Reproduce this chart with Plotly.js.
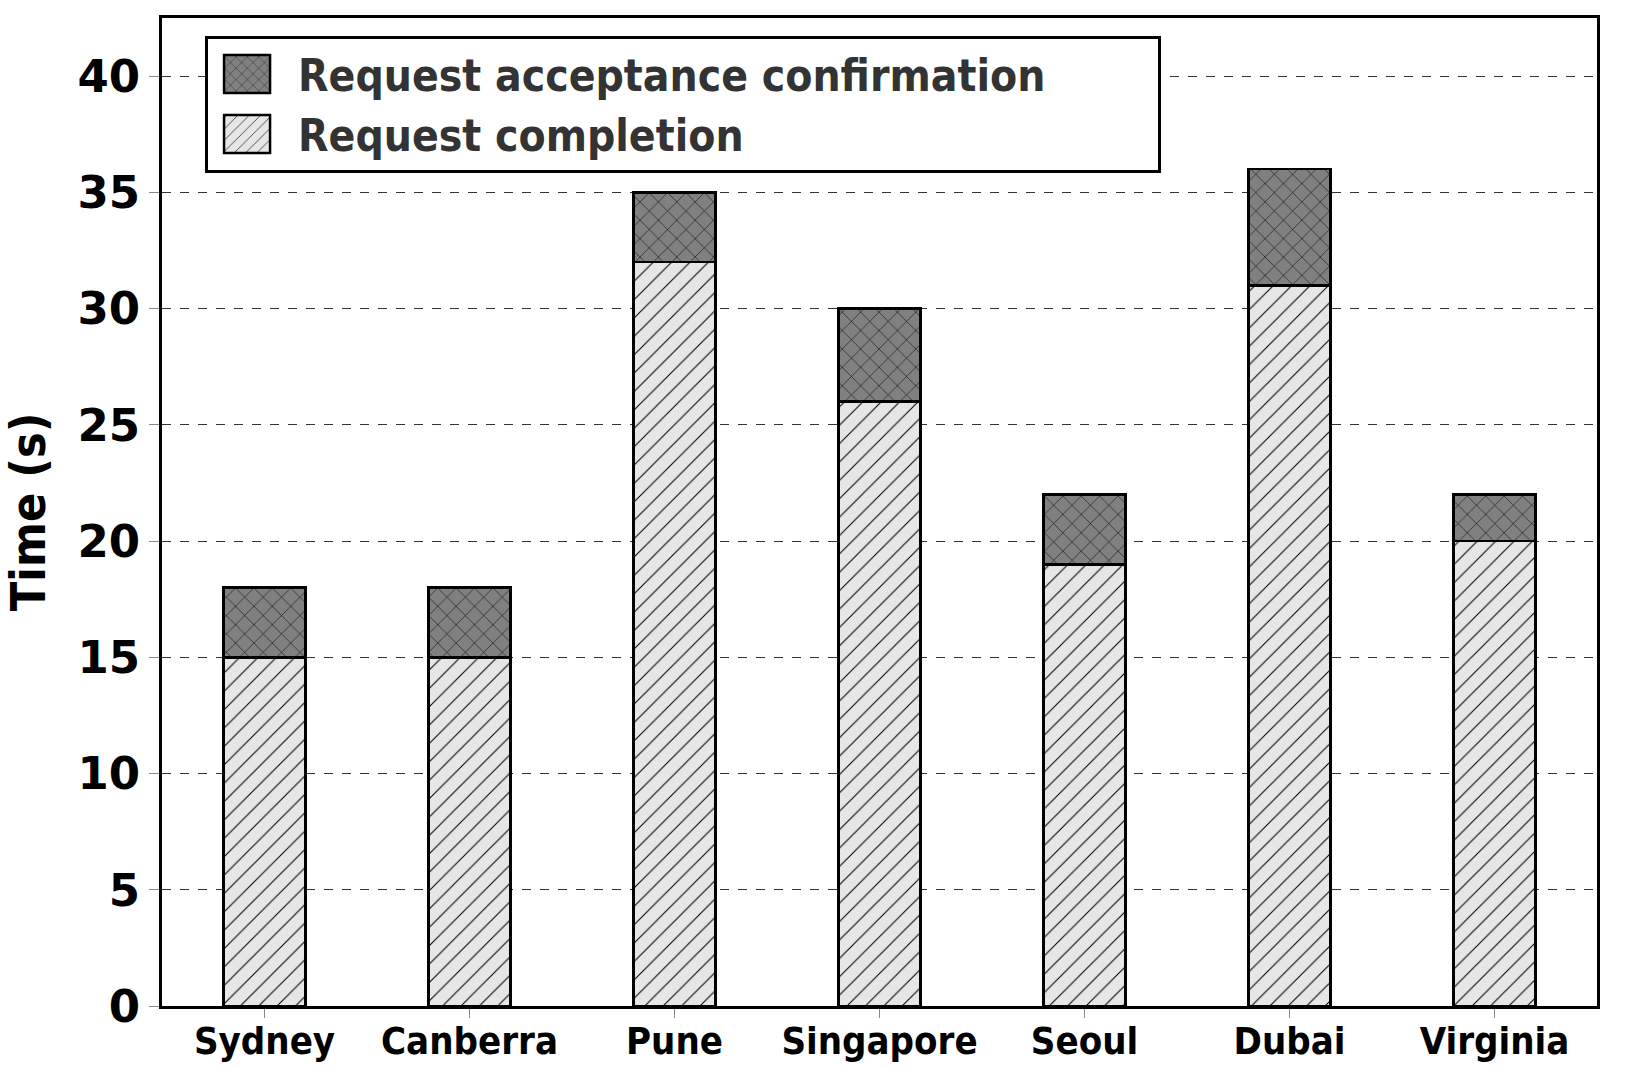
<!DOCTYPE html>
<html>
<head>
<meta charset="utf-8">
<script src="https://cdn.plot.ly/plotly-3.0.1.min.js"></script>
<style>html,body{margin:0;padding:0;background:#fff;}#chart{width:1634px;height:1068px;}</style>
</head>
<body>
<div id="chart"></div>
<script>
const cities = ["Sydney", "Canberra", "Pune", "Singapore", "Seoul", "Dubai", "Virginia"];
const completion = [15, 15, 32, 26, 19, 31, 20];
const acceptance = [3, 3, 3, 4, 3, 5, 2];
const yTicks = [0, 5, 10, 15, 20, 25, 30, 35, 40];

const traces = [
  {
    type: "bar", name: "Request completion", x: cities, y: completion, width: 0.4,
    marker: {
      color: "#e6e6e6",
      line: {color: "#000", width: 2.5},
      pattern: {shape: "/", fgcolor: "#000", bgcolor: "#e6e6e6", size: 13, solidity: 0.08, fillmode: "replace"}
    }
  },
  {
    type: "bar", name: "Request acceptance confirmation", x: cities, y: acceptance, width: 0.4,
    marker: {
      color: "#808080",
      line: {color: "#000", width: 2.5},
      pattern: {shape: "x", fgcolor: "#000", bgcolor: "#808080", size: 13, solidity: 0.08, fillmode: "replace"}
    }
  }
];

const layout = {
  width: 1634, height: 1068,
  margin: {l: 162, r: 37, t: 18, b: 62},
  paper_bgcolor: "#fff", plot_bgcolor: "#fff",
  barmode: "stack",
  showlegend: true,
  legend: {
    x: 0.03, y: 0.982, xanchor: "left", yanchor: "top",
    orientation: "h", entrywidth: 855, entrywidthmode: "pixels",
    traceorder: "reversed", itemwidth: 80,
    bgcolor: "#fff", bordercolor: "#000", borderwidth: 3,
    font: {family: "DejaVu Sans Condensed", size: 44, color: "#333", weight: "bold"}
  },
  xaxis: {
    range: [-0.5, 6.5],
    showline: true, mirror: true, linecolor: "#000", linewidth: 3,
    ticks: "outside", ticklen: 9, tickcolor: "#888", tickwidth: 1,
    ticklabelstandoff: -10,
    tickfont: {family: "DejaVu Sans Condensed", size: 38, color: "#000", weight: "bold"},
    showgrid: false, zeroline: false
  },
  yaxis: {
    range: [0, 42.5],
    tickvals: yTicks, ticktext: yTicks.map(String),
    showline: true, mirror: true, linecolor: "#000", linewidth: 3,
    ticks: "outside", ticklen: 10, tickcolor: "#888", tickwidth: 1,
    tickfont: {family: "DejaVu Sans", size: 45, color: "#000", weight: "bold"},
    showgrid: true, gridcolor: "#333", gridwidth: 1, griddash: "dash",
    zeroline: false,
    title: {text: "Time (s)", font: {family: "DejaVu Sans Condensed", size: 48, color: "#000", weight: "bold"}, standoff: 24}
  }
};

Plotly.newPlot("chart", traces, layout, {displayModeBar: false, staticPlot: true}).then(function () {
  document.querySelectorAll("g.legendpoints path").forEach(function (p) {
    p.setAttribute("d", "M17,19H-29V-19H17Z");
  });
});
</script>
</body>
</html>
